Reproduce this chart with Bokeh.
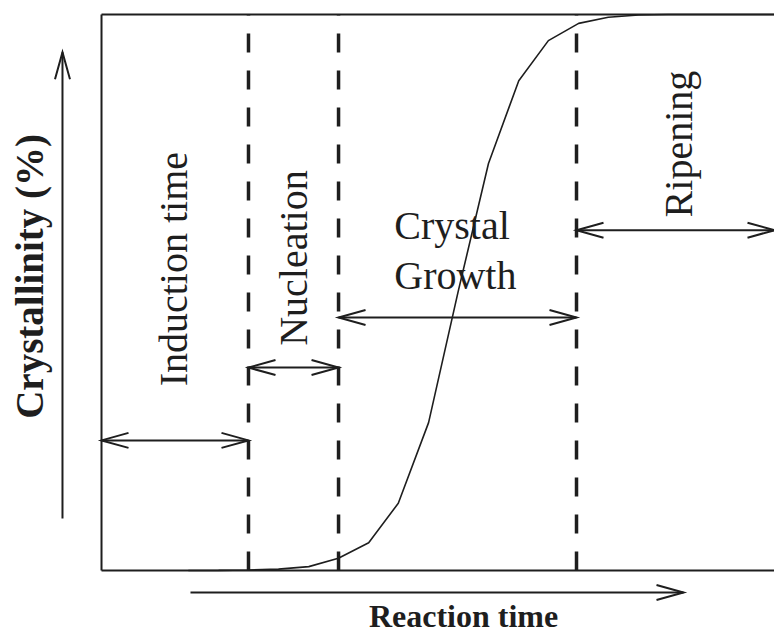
import math
from bokeh.plotting import figure
from bokeh.models import Range1d, ColumnDataSource
from bokeh.core.properties import value
from bokeh.embed import file_html
from bokeh.resources import INLINE

# ---------------- data ----------------
# reaction time (arbitrary units, frame spans 0..100) and crystallinity (%)
time = [12.9, 17.4, 21.8, 26.3, 30.8, 35.2, 39.7, 44.1, 48.6, 53.0,
        57.5, 62.0, 66.4, 70.9, 75.3, 79.8, 84.2, 100.0]
crystallinity = [0.0, 0.02, 0.1, 0.25, 0.7, 2.2, 5.0, 12.1, 26.6, 50.2,
                 73.2, 88.1, 95.3, 98.4, 99.5, 99.9, 100.0, 100.0]

# stage boundaries (dashed lines)
boundaries = [21.84, 35.22, 70.58]

# stage arrows: start, end, height
stage_names = ["Induction time", "Nucleation", "Crystal Growth", "Ripening"]
stage_start = [0.0, 21.84, 35.22, 70.58]
stage_end = [21.84, 35.22, 70.58, 100.0]
stage_level = [23.4, 36.5, 45.5, 61.2]

x_label = "Reaction time"
y_label = "Crystallinity (%)"

# ---------------- figure ----------------
W, H = 774, 633
X0, X1 = -15.01, 100.0
Y0, Y1 = -11.33, 102.52
SX = W / (X1 - X0)
SY = H / (Y1 - Y0)

INK = "#1e1e1e"
FONT = value("Liberation Serif")

p = figure(width=W, height=H, output_backend="svg", toolbar_location=None,
           x_range=Range1d(X0, X1), y_range=Range1d(Y0, Y1),
           x_axis_location=None, y_axis_location=None, min_border=0,
           background_fill_color="white", border_fill_color="white")
p.outline_line_color = None
p.xgrid.visible = False
p.ygrid.visible = False

# frame (left, top, bottom)
p.segment(x0=[0, 0, 0], y0=[0, 100, 0], x1=[0, X1, X1], y1=[100, 100, 0],
          line_color=INK, line_width=2)

# dashed stage boundaries
p.segment(x0=boundaries, y0=[100] * 3, x1=boundaries, y1=[0] * 3,
          line_color=INK, line_width=3.5, line_dash="19 18",
          line_dash_offset=18)

# crystallinity curve
p.line(time, crystallinity, line_color=INK, line_width=1.6)


def head(xs, ys, xe, ye, L=27.0, Wd=7.5):
    """Open arrow head at (xe, ye) for shaft coming from (xs, ys)."""
    dx, dy = (xe - xs) * SX, (ye - ys) * SY
    n = math.hypot(dx, dy)
    ux, uy = dx / n, dy / n
    px, py = -uy, ux
    bx1 = xe + (-L * ux + Wd * px) / SX
    by1 = ye + (-L * uy + Wd * py) / SY
    bx2 = xe + (-L * ux - Wd * px) / SX
    by2 = ye + (-L * uy - Wd * py) / SY
    return [bx1, xe, bx2], [by1, ye, by2]


shaft_x, shaft_y, heads_x, heads_y = [], [], [], []
for s, e, lv in zip(stage_start, stage_end, stage_level):
    shaft_x.append([s, e]); shaft_y.append([lv, lv])
    for a, b in ((s, e), (e, s)):
        hx, hy = head(a, lv, b, lv)
        heads_x.append(hx); heads_y.append(hy)

# axis arrows (outside frame)
yarr_x, yarr_y0, yarr_y1 = -5.80, 9.35, 93.2
xarr_y, xarr_x0, xarr_x1 = -3.96, 13.22, 86.48
shaft_x += [[yarr_x, yarr_x], [xarr_x0, xarr_x1]]
shaft_y += [[yarr_y0, yarr_y1], [xarr_y, xarr_y]]
for hx, hy in (head(yarr_x, yarr_y0, yarr_x, yarr_y1),
               head(xarr_x0, xarr_y, xarr_x1, xarr_y)):
    heads_x.append(hx); heads_y.append(hy)

p.multi_line(shaft_x, shaft_y, line_color=INK, line_width=2)
p.multi_line(heads_x, heads_y, line_color=INK, line_width=2,
             line_join="miter")

# rotated stage labels
rot = ColumnDataSource(dict(x=[10.70, 28.53, 85.74], y=[54.2, 56.2, 76.7],
                            t=[stage_names[0], stage_names[1], stage_names[3]]))
p.text(x="x", y="y", text="t", source=rot, angle=math.pi / 2,
       text_align="center", text_baseline="alphabetic",
       text_font=FONT, text_font_size=value("40px"), text_color=INK)

# Crystal Growth (two lines)
cg = stage_names[2].split(" ")
p.text(x=[43.50, 43.50], y=[62.06, 53.06], text=cg,
       text_align="left", text_baseline="alphabetic",
       text_font=FONT, text_font_size=value("40px"), text_color=INK)

# axis titles
p.text(x=[53.79], y=[-8.2], text=[x_label], text_align="center",
       text_baseline="alphabetic", text_font=FONT,
       text_font_size=value("32px"), text_font_style="bold", text_color=INK)
p.text(x=[-10.70], y=[52.9], text=[y_label], angle=math.pi / 2,
       text_align="center", text_baseline="alphabetic", text_font=FONT,
       text_font_size=value("39px"), text_font_style="bold", text_color=INK)

open("out.html", "w").write(file_html(p, INLINE))
